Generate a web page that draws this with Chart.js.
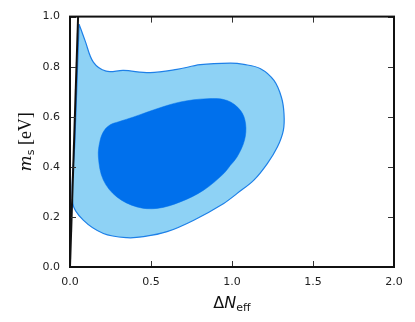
<!DOCTYPE html>
<html>
<head>
<meta charset="utf-8">
<script src="https://cdn.jsdelivr.net/npm/chart.js@4"></script>
<style>
  html, body { margin: 0; padding: 0; background: #fff; }
  #wrap { width: 415px; height: 322px; }
</style>
</head>
<body>
<div id="wrap"><canvas id="c" width="415" height="322"></canvas></div>
<script>
// outer (95%) contour
const outerX = [0.056, 0.093, 0.144, 0.223, 0.33, 0.495, 0.66, 0.805, 0.99, 1.073, 1.176, 1.259, 1.305, 1.321, 1.317, 1.28, 1.218, 1.135, 1.032, 0.949, 0.764, 0.599, 0.454, 0.351, 0.206, 0.082, 0.017, 0.03, 0.044, 0.056];
const outerY = [0.97, 0.904, 0.818, 0.782, 0.785, 0.776, 0.789, 0.808, 0.814, 0.809, 0.792, 0.745, 0.678, 0.612, 0.546, 0.479, 0.413, 0.347, 0.294, 0.254, 0.187, 0.141, 0.121, 0.117, 0.134, 0.187, 0.254, 0.5, 0.75, 0.97];
// inner (68%) contour
const innerX = [0.99, 0.949, 0.825, 0.681, 0.537, 0.413, 0.289, 0.206, 0.175, 0.186, 0.212, 0.248, 0.3, 0.392, 0.537, 0.681, 0.846, 0.97, 1.053, 1.084, 1.077, 1.032, 0.99];
const innerY = [0.406, 0.373, 0.307, 0.26, 0.234, 0.24, 0.28, 0.347, 0.44, 0.506, 0.546, 0.568, 0.58, 0.599, 0.632, 0.659, 0.672, 0.665, 0.625, 0.572, 0.506, 0.44, 0.406];
// black line
const lineX = [0.0, 0.05];
const lineY = [0.0, 1.0];
const xTicks = [0, 0.5, 1.0, 1.5, 2.0];
const yTicks = [0, 0.2, 0.4, 0.6, 0.8, 1.0];

const pts = (xs, ys) => xs.map((x, i) => ({ x: x, y: ys[i] }));

// frame, inward ticks and math-style axis titles
const decor = {
    id: 'decor',
    afterDraw(chart) {
        const ctx = chart.ctx, a = chart.chartArea;
        const xs = chart.scales.x, ys = chart.scales.y;
        ctx.save();
        ctx.strokeStyle = '#333';
        ctx.lineWidth = 1;
        xTicks.forEach(v => {
            const p = Math.round(xs.getPixelForValue(v)) + 0.5;
            ctx.beginPath();
            ctx.moveTo(p, a.bottom); ctx.lineTo(p, a.bottom - 6);
            ctx.moveTo(p, a.top); ctx.lineTo(p, a.top + 6);
            ctx.stroke();
        });
        yTicks.forEach(v => {
            const p = Math.round(ys.getPixelForValue(v)) + 0.5;
            ctx.beginPath();
            ctx.moveTo(a.left, p); ctx.lineTo(a.left + 6, p);
            ctx.moveTo(a.right, p); ctx.lineTo(a.right - 6, p);
            ctx.stroke();
        });
        ctx.strokeStyle = '#111';
        ctx.lineWidth = 2;
        ctx.strokeRect(a.left, a.top, a.right - a.left, a.bottom - a.top);

        // x title: Delta N_eff
        ctx.fillStyle = '#111';
        ctx.textBaseline = 'alphabetic';
        const f1 = '16px "DejaVu Sans"', f2 = 'italic 16px "DejaVu Sans"', f3 = '11px "DejaVu Sans"';
        ctx.font = f1; const w1 = ctx.measureText('\u0394').width;
        ctx.font = f2; const w2 = ctx.measureText('N').width;
        ctx.font = f3; const w3 = ctx.measureText('eff').width;
        let x0 = (a.left + a.right) / 2 - (w1 + w2 + w3) / 2;
        const by = 308;
        ctx.font = f1; ctx.fillText('\u0394', x0, by); x0 += w1;
        ctx.font = f2; ctx.fillText('N', x0, by); x0 += w2;
        ctx.font = f3; ctx.fillText('eff', x0, by + 3);

        // y title: m_s [eV]
        ctx.translate(31, (a.top + a.bottom) / 2);
        ctx.rotate(-Math.PI / 2);
        const g1 = 'italic 17px "DejaVu Serif"', g2 = '11px "DejaVu Sans"', g3 = '18px "Liberation Serif"';
        ctx.font = g1; const v1 = ctx.measureText('m').width;
        ctx.font = g2; const v2 = ctx.measureText('s').width;
        ctx.font = g3; const v3 = ctx.measureText(' [eV]').width;
        let y0 = -(v1 + v2 + v3) / 2;
        ctx.font = g1; ctx.fillText('m', y0, 0); y0 += v1;
        ctx.font = g2; ctx.fillText('s', y0, 3); y0 += v2;
        ctx.font = g3; ctx.fillText(' [eV]', y0, 0);
        ctx.restore();
    }
};

new Chart(document.getElementById('c'), {
    type: 'scatter',
    data: {
        datasets: [{
            data: pts(outerX, outerY),
            order: 3,
            showLine: true,
            fill: 'shape',
            backgroundColor: 'rgb(142, 210, 245)',
            borderColor: 'rgb(30, 128, 232)',
            borderWidth: 1.2,
            pointRadius: 0,
            tension: 0.35
        }, {
            data: pts(innerX, innerY),
            order: 2,
            showLine: true,
            fill: 'shape',
            backgroundColor: 'rgb(0, 112, 236)',
            borderColor: 'rgb(0, 112, 236)',
            borderWidth: 0.5,
            pointRadius: 0,
            tension: 0.35
        }, {
            data: pts(lineX, lineY),
            order: 1,
            showLine: true,
            fill: false,
            borderColor: '#111',
            borderWidth: 2,
            pointRadius: 0
        }]
    },
    options: {
        responsive: false,
        animation: false,
        layout: { padding: { top: 16, right: 21, left: 0, bottom: 0 } },
        plugins: { legend: { display: false }, tooltip: { enabled: false } },
        scales: {
            x: {
                type: 'linear', min: 0, max: 2,
                grid: { display: false, drawTicks: false },
                border: { display: false },
                afterFit: s => { s.height = 55; },
                ticks: {
                    stepSize: 0.5, padding: 9, color: '#222',
                    font: { family: 'DejaVu Sans', size: 11 },
                    maxRotation: 0,
                    callback: v => v.toFixed(1)
                }
            },
            y: {
                type: 'linear', min: 0, max: 1,
                grid: { display: false, drawTicks: false },
                border: { display: false },
                afterFit: s => { s.width = 70; },
                ticks: {
                    stepSize: 0.2, padding: 10, color: '#222',
                    font: { family: 'DejaVu Sans', size: 11 },
                    callback: v => v.toFixed(1)
                }
            }
        }
    },
    plugins: [decor]
});
</script>
</body>
</html>
